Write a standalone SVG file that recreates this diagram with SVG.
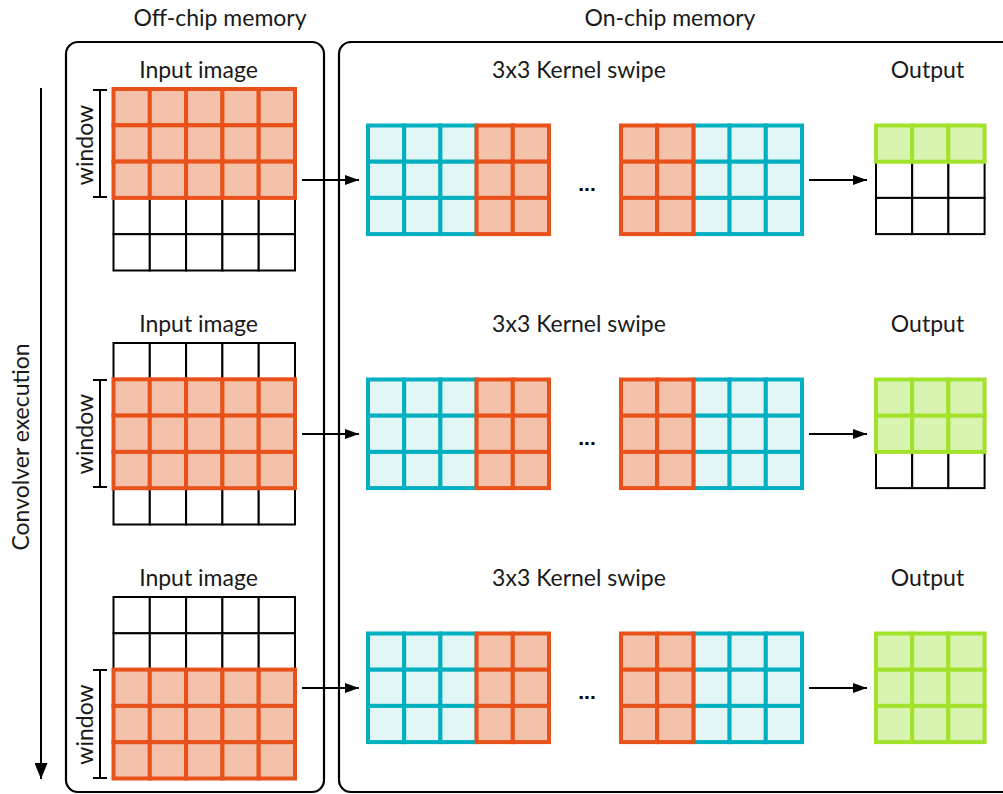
<svg xmlns="http://www.w3.org/2000/svg" xmlns:xlink="http://www.w3.org/1999/xlink" width="1003" height="794" viewBox="0 0 1003 794">
<style>
  .lbl { font-family: Lato, "Open Sans", "Liberation Sans", sans-serif; font-size: 23px; fill: #1a1a1a; text-anchor: middle; }
  .box { fill: none; stroke: #000; stroke-width: 2.2; }
  .conn { stroke: #000; stroke-width: 2; fill: none; }
  .br { stroke: #000; stroke-width: 2; fill: none; }
  .blk { fill: #fff; stroke: #000; stroke-width: 2; }
  .org { fill: #f4c1ab; stroke: #e8521a; stroke-width: 4; }
  .cyn { fill: #e3f6f6; stroke: #00b0c0; stroke-width: 4; }
  .grn { fill: #d9f4b1; stroke: #a2e22a; stroke-width: 4; }
  .dots { font-family: "Liberation Sans", sans-serif; font-size: 21px; font-weight: bold; fill: #000; text-anchor: middle; }
</style>
<defs>
  <marker id="ah" viewBox="0 0 14 10" refX="14" refY="5" markerWidth="14" markerHeight="10" markerUnits="userSpaceOnUse" orient="auto">
    <path d="M0,0 L14,5 L0,10 z" fill="#000"/>
  </marker>
  <marker id="ahv" viewBox="0 0 16 13" refX="16" refY="6.5" markerWidth="16" markerHeight="13" markerUnits="userSpaceOnUse" orient="auto">
    <path d="M0,0 L16,6.5 L0,13 z" fill="#000"/>
  </marker>
  <g id="inBlk1" class="blk">
    <rect x="0" y="0" width="36.3" height="36.3"/><rect x="36.3" y="0" width="36.3" height="36.3"/><rect x="72.6" y="0" width="36.3" height="36.3"/><rect x="108.9" y="0" width="36.3" height="36.3"/><rect x="145.2" y="0" width="36.3" height="36.3"/>
  </g>
  <g id="inOrgRow" class="org">
    <rect x="0" y="0" width="36.3" height="36.3"/><rect x="36.3" y="0" width="36.3" height="36.3"/><rect x="72.6" y="0" width="36.3" height="36.3"/><rect x="108.9" y="0" width="36.3" height="36.3"/><rect x="145.2" y="0" width="36.3" height="36.3"/>
  </g>
  <g id="inWin">
    <use xlink:href="#inOrgRow" y="0"/>
    <use xlink:href="#inOrgRow" y="36.3"/>
    <use xlink:href="#inOrgRow" y="72.6"/>
  </g>
  <g id="cynCol" class="cyn">
    <rect x="0" y="0" width="36.2" height="36.2"/><rect x="0" y="36.2" width="36.2" height="36.2"/><rect x="0" y="72.4" width="36.2" height="36.2"/>
  </g>
  <g id="orgCol" class="org">
    <rect x="0" y="0" width="36.2" height="36.2"/><rect x="0" y="36.2" width="36.2" height="36.2"/><rect x="0" y="72.4" width="36.2" height="36.2"/>
  </g>
  <g id="kernA">
    <use xlink:href="#cynCol" x="0"/><use xlink:href="#cynCol" x="36.2"/><use xlink:href="#cynCol" x="72.4"/>
    <use xlink:href="#orgCol" x="108.6"/><use xlink:href="#orgCol" x="144.8"/>
  </g>
  <g id="kernB">
    <use xlink:href="#cynCol" x="72.4"/><use xlink:href="#cynCol" x="108.6"/><use xlink:href="#cynCol" x="144.8"/>
    <use xlink:href="#orgCol" x="0"/><use xlink:href="#orgCol" x="36.2"/>
  </g>
  <g id="outBlkRow" class="blk">
    <rect x="0" y="0" width="36.2" height="36.2"/><rect x="36.2" y="0" width="36.2" height="36.2"/><rect x="72.4" y="0" width="36.2" height="36.2"/>
  </g>
  <g id="outGrnRow" class="grn">
    <rect x="0" y="0" width="36.2" height="36.2"/><rect x="36.2" y="0" width="36.2" height="36.2"/><rect x="72.4" y="0" width="36.2" height="36.2"/>
  </g>
</defs>

<rect width="1003" height="794" fill="#fff"/>

<g id="off-chip-memory">
  <rect class="box" x="66" y="42" width="258" height="750" rx="12"/>
  <text class="lbl" x="220" y="26">Off-chip memory</text>
</g>
<g id="on-chip-memory">
  <rect class="box" x="339" y="42" width="680" height="750" rx="12"/>
  <text class="lbl" x="670" y="26">On-chip memory</text>
</g>

<g id="convolver-execution">
  <text class="lbl" transform="translate(29,447) rotate(-90)">Convolver execution</text>
</g>

<g id="input-1">
  <text class="lbl" x="198.5" y="78">Input image</text>
  <use xlink:href="#inBlk1" transform="translate(113.5,197.9)"/>
  <use xlink:href="#inBlk1" transform="translate(113.5,234.2)"/>
  <use xlink:href="#inWin" transform="translate(113.5,89)"/>
  <path class="br" d="M100,90 V197 M93,90 H107 M93,197 H107"/>
  <text class="lbl" transform="translate(93,145) rotate(-90)">window</text>
</g>
<g id="kernel-1">
  <text class="lbl" x="579" y="78">3x3 Kernel swipe</text>
  <use xlink:href="#kernA" transform="translate(368,125.5)"/>
  <text class="dots" x="587" y="191">...</text>
  <use xlink:href="#kernB" transform="translate(621,125.5)"/>
</g>
<g id="output-1">
  <text class="lbl" x="927.5" y="78">Output</text>
  <use xlink:href="#outBlkRow" transform="translate(876,161.7)"/>
  <use xlink:href="#outBlkRow" transform="translate(876,197.9)"/>
  <use xlink:href="#outGrnRow" transform="translate(876,125.5)"/>
</g>

<g id="input-2">
  <text class="lbl" x="198.5" y="332">Input image</text>
  <use xlink:href="#inBlk1" transform="translate(113.5,343)"/>
  <use xlink:href="#inBlk1" transform="translate(113.5,488.2)"/>
  <use xlink:href="#inWin" transform="translate(113.5,379.3)"/>
  <path class="br" d="M100,380 V487 M93,380 H107 M93,487 H107"/>
  <text class="lbl" transform="translate(93,434) rotate(-90)">window</text>
</g>
<g id="kernel-2">
  <text class="lbl" x="579" y="332">3x3 Kernel swipe</text>
  <use xlink:href="#kernA" transform="translate(368,379.5)"/>
  <text class="dots" x="587" y="445">...</text>
  <use xlink:href="#kernB" transform="translate(621,379.5)"/>
</g>
<g id="output-2">
  <text class="lbl" x="927.5" y="332">Output</text>
  <use xlink:href="#outBlkRow" transform="translate(876,451.9)"/>
  <use xlink:href="#outGrnRow" transform="translate(876,379.5)"/>
  <use xlink:href="#outGrnRow" transform="translate(876,415.7)"/>
</g>

<g id="input-3">
  <text class="lbl" x="198.5" y="586">Input image</text>
  <use xlink:href="#inBlk1" transform="translate(113.5,597)"/>
  <use xlink:href="#inBlk1" transform="translate(113.5,633.3)"/>
  <use xlink:href="#inWin" transform="translate(113.5,669.6)"/>
  <path class="br" d="M100,670 V778 M93,670 H107 M93,778 H107"/>
  <text class="lbl" transform="translate(93,724.5) rotate(-90)">window</text>
</g>
<g id="kernel-3">
  <text class="lbl" x="579" y="586">3x3 Kernel swipe</text>
  <use xlink:href="#kernA" transform="translate(368,633.5)"/>
  <text class="dots" x="587" y="699">...</text>
  <use xlink:href="#kernB" transform="translate(621,633.5)"/>
</g>
<g id="output-3">
  <text class="lbl" x="927.5" y="586">Output</text>
  <use xlink:href="#outGrnRow" transform="translate(876,633.5)"/>
  <use xlink:href="#outGrnRow" transform="translate(876,669.7)"/>
  <use xlink:href="#outGrnRow" transform="translate(876,705.9)"/>
</g>

<g id="connectors">
  <line class="conn" x1="41" y1="88" x2="41" y2="779" marker-end="url(#ahv)"/>
  <line class="conn" x1="302" y1="180" x2="359" y2="180" marker-end="url(#ah)"/>
  <line class="conn" x1="809" y1="180" x2="867" y2="180" marker-end="url(#ah)"/>
  <line class="conn" x1="302" y1="434" x2="359" y2="434" marker-end="url(#ah)"/>
  <line class="conn" x1="809" y1="434" x2="867" y2="434" marker-end="url(#ah)"/>
  <line class="conn" x1="302" y1="688" x2="359" y2="688" marker-end="url(#ah)"/>
  <line class="conn" x1="809" y1="688" x2="867" y2="688" marker-end="url(#ah)"/>
</g>
</svg>
